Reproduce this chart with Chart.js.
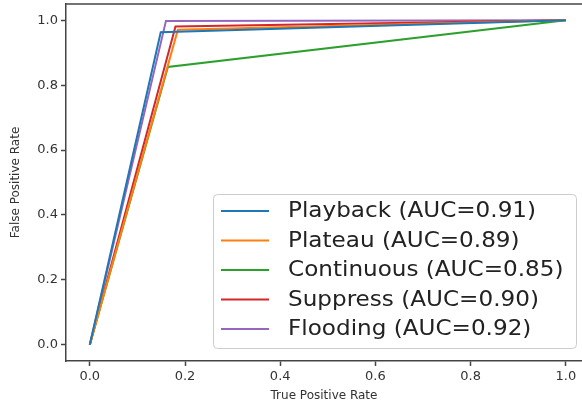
<!DOCTYPE html>
<html>
<head>
<meta charset="utf-8">
<script src="https://cdn.jsdelivr.net/npm/chart.js@4.4.1/dist/chart.umd.min.js"></script>
<style>
  html, body { margin: 0; padding: 0; background: #fff; }
  #wrap { width: 582px; height: 403px; }
</style>
</head>
<body>
<div id="wrap"><canvas id="roc"></canvas></div>
<script>
// ROC curves: [x, y] points per model
const series = ['Playback', 'Plateau', 'Continuous', 'Suppress', 'Flooding'];
const auc = ['0.91', '0.89', '0.85', '0.90', '0.92'];
const colors = ['#1f77b4', '#ff7f0e', '#2ca02c', '#d62728', '#9467bd'];
const playback = [[0, 0], [0.149, 0.963], [1, 1]];
const plateau = [[0, 0], [0.185, 0.971], [1, 1]];
const continuous = [[0, 0], [0.164, 0.856], [1, 1]];
const suppress = [[0, 0], [0.18, 0.981], [1, 1]];
const flooding = [[0, 0], [0.16, 0.998], [1, 1]];
const xTicks = [0, 0.2, 0.4, 0.6, 0.8, 1.0];
const yTicks = [0, 0.2, 0.4, 0.6, 0.8, 1.0];

const curves = [playback, plateau, continuous, suppress, flooding];
const axisColor = '#444';
const font = 'DejaVu Sans';

// legend drawn inside the plot, lower right
const insideLegend = {
    id: 'insideLegend',
    afterDraw(chart) {
        const ctx = chart.ctx;
        const a = chart.chartArea;
        ctx.save();
        // top spine
        ctx.strokeStyle = axisColor;
        ctx.lineWidth = 1.5;
        ctx.beginPath();
        ctx.moveTo(a.left, a.top);
        ctx.lineTo(a.right, a.top);
        ctx.stroke();

        const bx = 213, by = 194, bw = 363, bh = 154;
        ctx.fillStyle = 'rgba(255,255,255,0.85)';
        ctx.strokeStyle = '#cccccc';
        ctx.lineWidth = 1;
        ctx.beginPath();
        ctx.roundRect(bx + 0.5, by + 0.5, bw, bh, 4);
        ctx.fill();
        ctx.stroke();

        ctx.font = '21px "' + font + '"';
        ctx.textBaseline = 'middle';
        chart.data.datasets.forEach((ds, i) => {
            const y = 211 + i * 29.5;
            ctx.strokeStyle = ds.borderColor;
            ctx.lineWidth = 2;
            ctx.beginPath();
            ctx.moveTo(221, y);
            ctx.lineTo(269, y);
            ctx.stroke();
            ctx.fillStyle = '#222';
            ctx.save();
            ctx.translate(288, y + 1);
            ctx.scale(1.1, 1);
            ctx.fillText(ds.label, 0, 0);
            ctx.restore();
        });
        ctx.restore();
    }
};

new Chart(document.getElementById('roc'), {
    type: 'line',
    data: {
        datasets: curves.map((pts, i) => ({
            label: `${series[i]} (AUC=${auc[i]})`,
            data: pts.map(p => ({ x: p[0], y: p[1] })),
            borderColor: colors[i],
            backgroundColor: colors[i],
            borderWidth: 2,
            pointRadius: 0,
            tension: 0,
            fill: false
        }))
    },
    options: {
        responsive: true,
        maintainAspectRatio: false,
        animation: false,
        layout: { padding: { top: 4, right: 0, left: 0, bottom: 0 } },
        plugins: {
            legend: { display: false },
            tooltip: { enabled: false }
        },
        scales: {
            x: {
                type: 'linear',
                min: -0.05,
                max: 1.034,
                afterBuildTicks: s => { s.ticks = xTicks.map(v => ({ value: v })); },
                afterFit: s => { s.height = 42; s.paddingLeft = 0; s.paddingRight = 0; },
                grid: { drawOnChartArea: false, drawTicks: true, tickLength: 5, color: axisColor, tickWidth: 1.5 },
                border: { display: true, color: axisColor, width: 1.5 },
                ticks: {
                    color: '#333', padding: 3, maxRotation: 0,
                    font: { family: font, size: 13 },
                    callback: v => v.toFixed(1)
                },
                title: {
                    display: true, text: 'True Positive Rate', color: '#333',
                    font: { family: font, size: 12 }, padding: { top: 2, bottom: 0 }
                }
            },
            y: {
                type: 'linear',
                min: -0.05,
                max: 1.05,
                afterBuildTicks: s => { s.ticks = yTicks.map(v => ({ value: v })); },
                afterFit: s => { s.width = 66; s.paddingTop = 0; s.paddingBottom = 0; },
                grid: { drawOnChartArea: false, drawTicks: true, tickLength: 5, color: axisColor, tickWidth: 1.5 },
                border: { display: true, color: axisColor, width: 1.5 },
                ticks: {
                    color: '#333', padding: 3,
                    font: { family: font, size: 13 },
                    callback: v => v.toFixed(1)
                },
                title: {
                    display: true, text: 'False Positive Rate', color: '#333',
                    font: { family: font, size: 12 }, padding: { top: 9, bottom: 0 }
                }
            }
        }
    },
    plugins: [insideLegend]
});
</script>
</body>
</html>
